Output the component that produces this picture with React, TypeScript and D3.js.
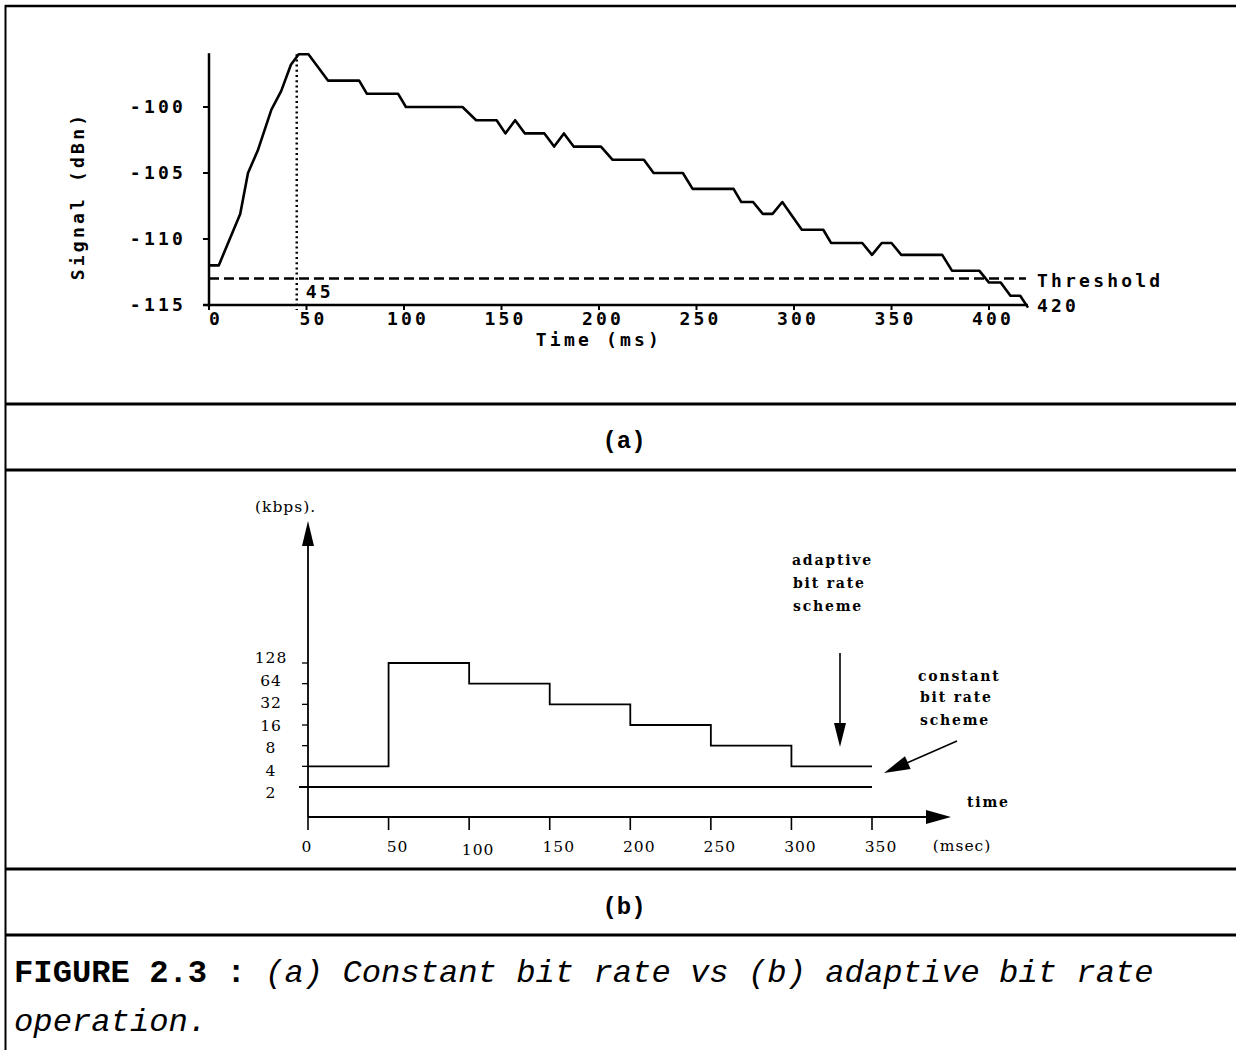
import React from "react";
import * as d3 from "d3";

// (a) received signal vs time
const signalTime = [0, 5, 16, 20, 25, 32, 37, 42, 46, 51, 61, 77, 81, 97, 101, 130, 137, 147.5, 152, 157, 162, 172, 177, 182, 187, 201, 207, 223, 228, 243, 248, 269, 273, 279, 284, 289, 294, 304, 315, 319, 335, 340, 345, 350, 355, 376, 381, 395, 400, 406, 411, 416, 420];
const signalDbn = [-112, -112, -108.1, -105, -103.3, -100.2, -98.8, -96.8, -96, -96, -98, -98, -99, -99, -100, -100, -101, -101, -102, -101, -102, -102, -103, -102, -103, -103, -104, -104, -105, -105, -106.2, -106.2, -107.2, -107.2, -108.1, -108.1, -107.2, -109.3, -109.3, -110.3, -110.3, -111.2, -110.3, -110.3, -111.2, -111.2, -112.4, -112.4, -113.3, -113.3, -114.3, -114.3, -115.2];
const signalXTicks = [0, 50, 100, 150, 200, 250, 300, 350, 400];
const signalYTicks = [-115, -110, -105, -100];
const thresholdDbn = -113;
const crossingMs = 45;
const endMs = 420;

// (b) bit rate schemes
const rateTime = [0, 50, 100, 150, 200, 250, 300, 350];
const adaptiveKbps = [4, 128, 64, 32, 16, 8, 4, 4];
const constantKbps = 2;
const rateTicks = [128, 64, 32, 16, 8, 4, 2];
const msecTicks = [0, 50, 100, 150, 200, 250, 300, 350];

const monoFont = "'DejaVu Sans Mono', monospace";
const serifFont = "'DejaVu Serif', serif";

function PanelA() {
  const x = d3.scaleLinear().domain([0, 420]).range([209, 1028]);
  const y = d3.scaleLinear().domain([-115, -100]).range([305, 107]);
  const line = d3.line<number>()
    .x((_, i) => x(signalTime[i]))
    .y(d => y(d));
  const txt = { fontFamily: monoFont, fontWeight: 700, fontSize: 18, letterSpacing: 3.2, fill: "#000" } as const;
  return (
    <g>
      {/* axes */}
      <line x1={x(0)} x2={x(0)} y1={y(-96) - 1} y2={y(-115) + 2} stroke="#000" strokeWidth={2.5} />
      <line x1={x(0) - 6} x2={x(endMs)} y1={y(-115)} y2={y(-115)} stroke="#000" strokeWidth={2.5} />
      {signalYTicks.map(t => (
        <g key={t}>
          <line x1={x(0) - 6} x2={x(0)} y1={y(t)} y2={y(t)} stroke="#000" strokeWidth={2} />
          <text {...txt} x={x(0) - 23} y={y(t)} dy="0.36em" textAnchor="end">{"-" + Math.abs(t)}</text>
        </g>
      ))}
      {signalXTicks.map(t => (
        <g key={t}>
          <line x1={x(t)} x2={x(t)} y1={y(-115)} y2={y(-115) + 5} stroke="#000" strokeWidth={2} />
          <text {...txt} x={x(t) + (t < 100 ? 7 : 4)} y={325} textAnchor="middle">{t}</text>
        </g>
      ))}
      <text {...txt} x={599} y={346} textAnchor="middle">Time (ms)</text>
      <text {...txt} transform="translate(84,196) rotate(-90)" textAnchor="middle">Signal (dBn)</text>

      {/* threshold + crossing */}
      <line x1={x(0)} x2={1026} y1={y(thresholdDbn)} y2={y(thresholdDbn)} stroke="#000" strokeWidth={2.5} strokeDasharray="10 5" />
      <line x1={x(crossingMs)} x2={x(crossingMs)} y1={y(-96)} y2={y(-115) + 5} stroke="#000" strokeWidth={2.5} strokeDasharray="2 3.2" />
      <text {...txt} x={x(crossingMs) + 9} y={298}>{crossingMs}</text>
      <text {...txt} x={1037} y={287}>Threshold</text>
      <text {...txt} x={1037} y={312}>{endMs}</text>

      <path d={line(signalDbn) || ""} fill="none" stroke="#000" strokeWidth={2.6} strokeLinejoin="round" />
    </g>
  );
}

function PanelB() {
  const x = d3.scaleLinear().domain([0, 350]).range([308, 872]);
  const y = d3.scaleLog().base(2).domain([2, 128]).range([787, 663]);
  const axisY = 817;
  const step = d3.line<number>()
    .x((_, i) => x(rateTime[i]))
    .y(d => y(d))
    .curve(d3.curveStepAfter);
  const txt = { fontFamily: serifFont, fontSize: 15.5, letterSpacing: 1, fill: "#000" } as const;
  const note = { fontFamily: serifFont, fontWeight: 700, fontSize: 14, letterSpacing: 1.8, fill: "#000" } as const;
  const midY = (y(2) + y(128)) / 2;

  // diagonal arrow towards the constant line
  const a0 = [957, 741], a1 = [884, 773];
  const ang = Math.atan2(a1[1] - a0[1], a1[0] - a0[0]);
  const head = (tip: number[], angle: number, len: number, hw: number) => {
    const bx = tip[0] - len * Math.cos(angle), by = tip[1] - len * Math.sin(angle);
    const px = -Math.sin(angle) * hw, py = Math.cos(angle) * hw;
    return `M${tip[0]},${tip[1]}L${bx + px},${by + py}L${bx - px},${by - py}Z`;
  };

  return (
    <g>
      {/* axes with arrows */}
      <line x1={x(0)} x2={x(0)} y1={axisY} y2={540} stroke="#000" strokeWidth={1.8} />
      <path d={head([x(0), 521], -Math.PI / 2, 25, 6)} fill="#000" />
      <line x1={x(0)} x2={930} y1={axisY} y2={axisY} stroke="#000" strokeWidth={1.8} />
      <path d={head([951, axisY], 0, 25, 7)} fill="#000" />
      <text {...txt} x={255} y={512}>(kbps).</text>
      <text {...note} x={967} y={807}>time</text>
      <text {...txt} x={962} y={851} textAnchor="middle">(msec)</text>

      {rateTicks.map(t => (
        <g key={t}>
          <line x1={x(0) - 6} x2={x(0)} y1={y(t)} y2={y(t)} stroke="#000" strokeWidth={1.3} />
          <text {...txt} x={271} y={midY + (y(t) - midY) * 1.09} dy="0.36em" textAnchor="middle">{t}</text>
        </g>
      ))}
      {msecTicks.map(t => (
        <g key={t}>
          <line x1={x(t)} x2={x(t)} y1={axisY} y2={axisY + 13} stroke="#000" strokeWidth={1.6} />
          <text {...txt} x={x(t) + (t === 0 ? -1 : 9)} y={t === 100 ? 855 : 852} textAnchor="middle">{t}</text>
        </g>
      ))}

      {/* series */}
      <path d={step(adaptiveKbps) || ""} fill="none" stroke="#000" strokeWidth={1.8} />
      <line x1={x(0) - 9} x2={x(350)} y1={y(constantKbps)} y2={y(constantKbps)} stroke="#000" strokeWidth={1.8} />

      {/* annotations */}
      <text {...note} x={792} y={565}>adaptive</text>
      <text {...note} x={793} y={588}>bit rate</text>
      <text {...note} x={793} y={611}>scheme</text>
      <line x1={840} x2={840} y1={653} y2={725} stroke="#000" strokeWidth={1.6} />
      <path d={head([840, 747], Math.PI / 2, 24, 6)} fill="#000" />

      <text {...note} x={918} y={681}>constant</text>
      <text {...note} x={920} y={702}>bit rate</text>
      <text {...note} x={920} y={725}>scheme</text>
      <line x1={a0[0]} y1={a0[1]} x2={a1[0] - 20 * Math.cos(ang)} y2={a1[1] - 20 * Math.sin(ang)} stroke="#000" strokeWidth={1.6} />
      <path d={head(a1, ang, 26, 7)} fill="#000" />
    </g>
  );
}

export default function App() {
  const rule = "#000";
  const capFont = "'Liberation Mono', monospace";
  return (
    <div style={{ position: "absolute", left: 0, top: 0, width: 1236, height: 1050, background: "#fff" }}>
      <svg width={1236} height={1050} viewBox="0 0 1236 1050" style={{ display: "block" }}>
        <rect width={1236} height={1050} fill="#fff" />
        {/* frame */}
        <line x1={5} x2={1236} y1={6} y2={6} stroke={rule} strokeWidth={2.5} />
        <line x1={5.5} x2={5.5} y1={5} y2={1050} stroke={rule} strokeWidth={2} />
        {[404, 470, 869, 935].map(yy => (
          <line key={yy} x1={5} x2={1236} y1={yy} y2={yy} stroke={rule} strokeWidth={3} />
        ))}

        <PanelA />
        <text x={624} y={448} textAnchor="middle" fontFamily={capFont} fontWeight={700} fontSize={24}>(a)</text>

        <PanelB />
        <text x={624} y={914} textAnchor="middle" fontFamily={capFont} fontWeight={700} fontSize={24}>(b)</text>

        <text x={14} y={982} fontFamily={capFont} fontSize={32.2} fill="#000">
          <tspan fontWeight={700}>FIGURE 2.3 :</tspan>
          <tspan fontStyle="italic"> (a) Constant bit rate vs (b) adaptive bit rate</tspan>
        </text>
        <text x={14} y={1031} fontFamily={capFont} fontSize={32.2} fontStyle="italic" fill="#000">operation.</text>
      </svg>
    </div>
  );
}
